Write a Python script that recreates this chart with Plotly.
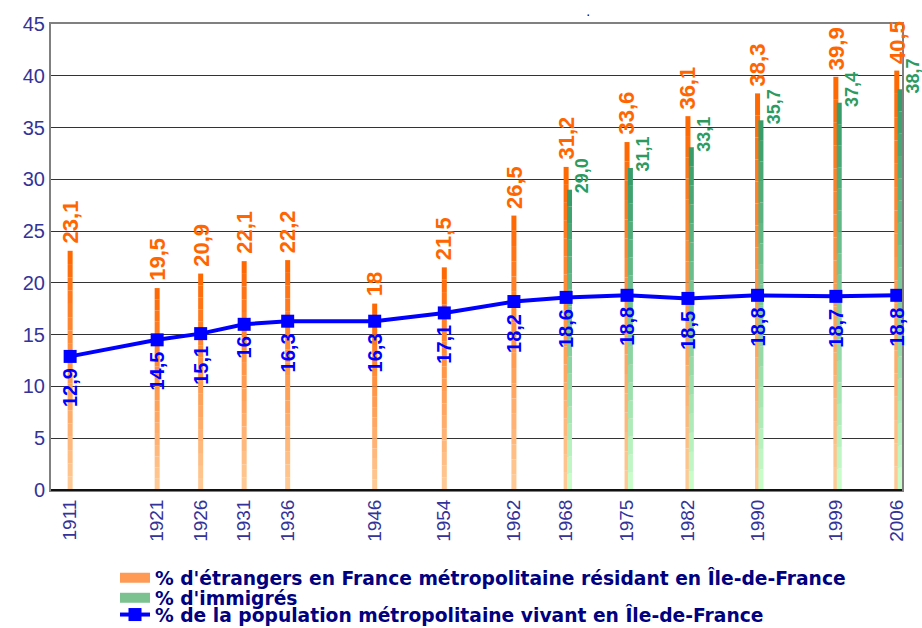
import plotly.graph_objects as go

# ---------------- data ----------------
years = [1911, 1921, 1926, 1931, 1936, 1946, 1954, 1962, 1968, 1975, 1982, 1990, 1999, 2006]
etrangers = [23.1, 19.5, 20.9, 22.1, 22.2, 18, 21.5, 26.5, 31.2, 33.6, 36.1, 38.3, 39.9, 40.5]
immig_years = [1968, 1975, 1982, 1990, 1999, 2006]
immigres = [29.0, 31.1, 33.1, 35.7, 37.4, 38.7]
population = [12.9, 14.5, 15.1, 16, 16.3, 16.3, 17.1, 18.2, 18.6, 18.8, 18.5, 18.8, 18.7, 18.8]
tick_labels = [str(y) for y in years]

name_etr = "% d'étrangers en France métropolitaine résidant en Île-de-France"
name_imm = "% d'immigrés"
name_pop = "% de la population métropolitaine vivant en Île-de-France"

# ---------------- style ----------------
FONT = "Liberation Sans, Arial, sans-serif"
LEG_FONT = "DejaVu Sans, Verdana, sans-serif"
NAVY = "#000080"
AXIS_TXT = "#333399"
ORANGE_TOP, ORANGE_BOT = (255, 102, 0), (255, 204, 153)
GREEN_TOP, GREEN_BOT = (51, 153, 102), (204, 255, 204)
BAR_W = 0.575
N_SEG = 18


def mix(c_bot, c_top, t):
    return "rgb(%d,%d,%d)" % tuple(round(b + (a - b) * t) for a, b in zip(c_top, c_bot))


fig = go.Figure()


def gradient_bars(xs, vals, c_bot, c_top, offset):
    # vertical gradient approximated by stacked slices of each bar
    for k in range(N_SEG):
        t = (k + 0.5) / N_SEG
        fig.add_trace(go.Bar(
            x=xs,
            y=[v / N_SEG for v in vals],
            base=[v * k / N_SEG for v in vals],
            width=BAR_W,
            offset=offset,
            marker=dict(color=mix(c_bot, c_top, t), line=dict(width=0)),
            showlegend=False,
            hoverinfo="skip",
        ))


gradient_bars(years, etrangers, ORANGE_BOT, ORANGE_TOP, -BAR_W / 2)
gradient_bars(immig_years, immigres, GREEN_BOT, GREEN_TOP, 0.1)

# population line
fig.add_trace(go.Scatter(
    x=years, y=population, mode="lines+markers", name=name_pop,
    line=dict(color="#0000FF", width=4),
    marker=dict(symbol="square", size=13, color="#0000FF"),
    legend="legend3",
))

# legend-only entries for the bars
fig.add_trace(go.Scatter(x=[None], y=[None], mode="lines", name=name_etr,
                         line=dict(color="#FF9A55", width=10), legend="legend"))
fig.add_trace(go.Scatter(x=[None], y=[None], mode="lines", name=name_imm,
                         line=dict(color="#7CC290", width=10), legend="legend2"))

# ---------------- data labels ----------------
def fmt(v):
    return ("%g" % v).replace(".", ",")


annotations = []
for x, v in zip(years, etrangers):
    annotations.append(dict(x=x, y=v, text=fmt(v), textangle=-90, showarrow=False,
                            xanchor="center", yanchor="bottom", yshift=5,
                            font=dict(family=FONT, size=22, color="#FF6600", weight="bold")))
for x, v in zip(immig_years, immigres):
    annotations.append(dict(x=x, y=v, text=("%.1f" % v).replace(".", ","), textangle=-90,
                            showarrow=False, xanchor="center", yanchor="bottom",
                            xshift=16, yshift=-6,
                            font=dict(family=FONT, size=18, color="#2E9A5E", weight="bold")))
for x, v in zip(years, population):
    annotations.append(dict(x=x, y=v, text=fmt(v), textangle=-90, showarrow=False,
                            xanchor="center", yanchor="top", yshift=-10,
                            font=dict(family=FONT, size=20, color="#0000FF", weight="bold")))

legend_common = dict(
    x=0.0752, xanchor="left", yanchor="middle",
    bgcolor="rgba(0,0,0,0)", borderwidth=0,
    font=dict(family=LEG_FONT, size=18.7, color=NAVY, weight="bold"),
)

fig.update_layout(
    width=922, height=628,
    margin=dict(l=51, r=20, t=24, b=138, autoexpand=False),
    paper_bgcolor="white", plot_bgcolor="white",
    barmode="overlay",
    title=dict(text=".", x=0.638, xref="container", y=0.99, yanchor="top",
               font=dict(family=FONT, size=14, color=NAVY)),
    xaxis=dict(
        range=[1908.8, 2006.6], automargin=False,
        tickmode="array", tickvals=years, ticktext=tick_labels,
        tickangle=-90, showgrid=False, zeroline=False,
        tickfont=dict(family=FONT, size=19, color=AXIS_TXT),
        showline=True, mirror=True, linecolor="#808080", linewidth=2,
        ticks="",
    ),
    yaxis=dict(
        range=[0, 45], dtick=5, tick0=0, automargin=False,
        showgrid=True, gridcolor="#333333", gridwidth=1,
        zeroline=False,
        tickfont=dict(family=FONT, size=20, color=AXIS_TXT),
        showline=True, mirror=True, linecolor="#808080", linewidth=2,
        ticks="",
    ),
    annotations=annotations,
    shapes=[dict(type="line", xref="paper", yref="paper", x0=0, x1=1, y0=0, y1=0,
                 line=dict(color="#111111", width=2), layer="above")],
    legend=dict(y=-0.189, **legend_common),
    legend2=dict(y=-0.232, **legend_common),
    legend3=dict(y=-0.268, **legend_common),
    showlegend=True,
)

fig.write_html("out.html", config={"displayModeBar": False},
               post_script="document.body.style.margin='0';")
